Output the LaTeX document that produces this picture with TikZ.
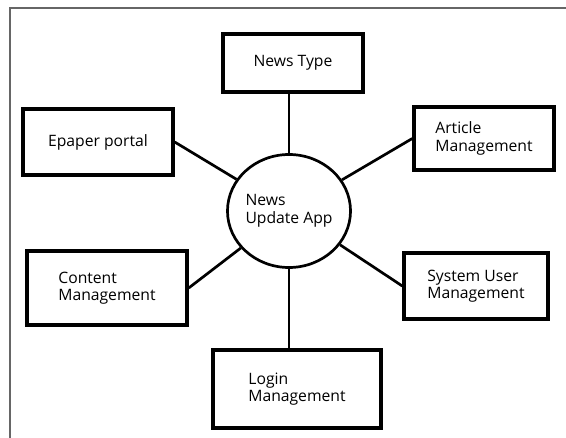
\documentclass[tikz,border=0pt]{standalone}
\usepackage{fontspec}
\setmainfont{Open Sans}
\usepackage{tikz}
\usetikzlibrary{shapes.geometric,calc}

\begin{document}
\begin{tikzpicture}[
  modbox/.style={draw, line width=2.9pt, rectangle, inner sep=0pt, align=left, text=black, font=\fontsize{13.4}{14.9}\selectfont},
  hub/.style={draw, line width=2.3pt, ellipse, inner sep=0pt, align=left, text=black, font=\fontsize{13.4}{14.9}\selectfont, minimum width=3.66cm, minimum height=3.39cm},
  link/.style={line width=2.3pt}
]
\useasboundingbox (0,0) rectangle (16.98,-13.14);

% === FRAME (only top and left edge visible) ===
\draw[line width=1.3pt, black!60] (0.3,-13.14) -- (0.3,-0.24) -- (16.98,-0.24);

% === CENTER: the app ===
\node[hub] (app) at (8.67,-6.33) {News\\Update App};

% === MODULES ===
\node[modbox, minimum width=4.2cm, minimum height=1.74cm] (type) at (8.79,-1.89) {News Type};
\node[modbox, minimum width=4.5cm, minimum height=1.98cm] (epaper) at (2.94,-4.26) {Epaper portal};
\node[modbox, minimum width=4.2cm, minimum height=1.89cm] (article) at (14.52,-4.155) {Article\\Management};
\node[modbox, minimum width=4.8cm, minimum height=2.22cm] (content) at (3.21,-8.64) {Content\\Management};
\node[modbox, minimum width=4.32cm, minimum height=1.98cm] (sysuser) at (14.28,-8.58) {System User\\Management};
\node[modbox, minimum width=5.04cm, minimum height=2.34cm] (login) at (8.91,-11.67) {Login\\Management};

% === LINKS ===
\draw[link] (app.north) -- (app.north |- type.south);
\draw[link] (app.south) -- (app.south |- login.north);
\draw[link] (epaper.east) -- (app);
\draw[link] (article.west) -- (app);
\draw[link] (content.east) -- (app);
\draw[link] (sysuser.west) -- (app);

\end{tikzpicture}
\end{document}
